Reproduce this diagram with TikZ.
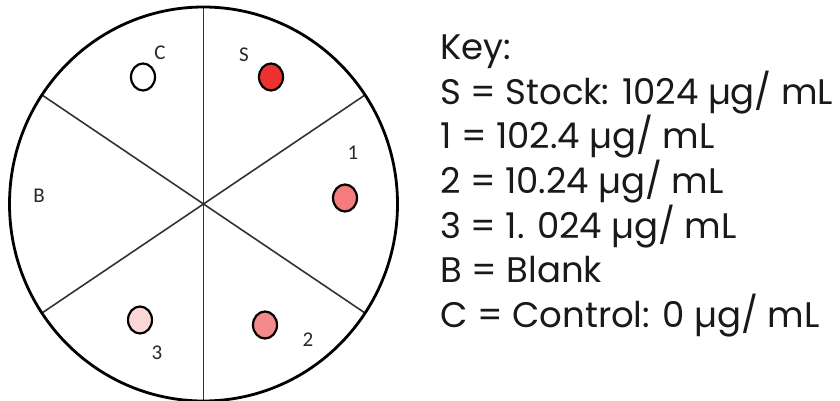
\documentclass[tikz,border=0pt]{standalone}
\usepackage{fontspec}
\setmainfont{Poppins}
\newfontfamily\lblfont{Carlito}
\usetikzlibrary{shapes.geometric}
\definecolor{dotS}{RGB}{238,50,50}
\definecolor{dotA}{RGB}{244,124,124}
\definecolor{dotB}{RGB}{244,138,138}
\definecolor{dotC}{RGB}{251,214,214}
\definecolor{lbl}{RGB}{40,40,40}
\tikzset{
  well/.style={ellipse,draw=black,line width=2.2pt,minimum width=24pt,minimum height=27pt,inner sep=0pt},
  divider/.style={draw=black!80,line width=1.6pt},
  wlabel/.style={font=\lblfont\fontsize{21}{21}\selectfont,text=lbl,inner sep=0pt},
  keyline/.style={anchor=base west,font=\fontsize{35.5}{35.5}\selectfont,inner sep=0pt,text=black!90}
}
\begin{document}
\begin{tikzpicture}[x=1pt,y=-1pt]
\useasboundingbox (0,0) rectangle (840,401);
\fill[white] (0,0) rectangle (840,401);
% plate
\coordinate (ctr) at (203.5,204);
\coordinate (top) at (203.5,7);
\coordinate (bot) at (203.5,401);
\coordinate (ur) at (365,95);
\coordinate (ul) at (42,95);
\coordinate (ll) at (42,313);
\coordinate (lr) at (365,313);
\draw[divider] (top) -- (bot);
\draw[divider] (ul) -- (lr);
\draw[divider] (ur) -- (ll);
\draw[line width=2.8pt] (ctr) ellipse[x radius=194,y radius=197];
% wells
\node[well,fill=white] (wC) at (143,77) {};
\node[well,fill=dotS] (wS) at (271,77) {};
\node[well,fill=dotA] (w1) at (345,198) {};
\node[well,fill=dotB] (w2) at (265,325) {};
\node[well,fill=dotC] (w3) at (140,320) {};
% labels
\node[wlabel] (lC) at (160,53) {C};
\node[wlabel] (lS) at (244,55) {S};
\node[wlabel] (l1) at (353,153) {1};
\node[wlabel] (lB) at (39,196) {B};
\node[wlabel] (l2) at (308,340) {2};
\node[wlabel] (l3) at (157,353) {3};
% key
\node[keyline] (k0) at (440,60) {Key:};
\node[keyline] (k1) at (440,104.5) {S = Stock: 1024 µg/ mL};
\node[keyline] (k2) at (440,149) {1 = 102.4 µg/ mL};
\node[keyline] (k3) at (440,193.5) {2 = 10.24 µg/ mL};
\node[keyline] (k4) at (440,238) {3 = 1. 024 µg/ mL};
\node[keyline] (k5) at (440,282.5) {B = Blank};
\node[keyline] (k6) at (440,327) {C = Control: 0 µg/ mL};
\end{tikzpicture}
\end{document}
